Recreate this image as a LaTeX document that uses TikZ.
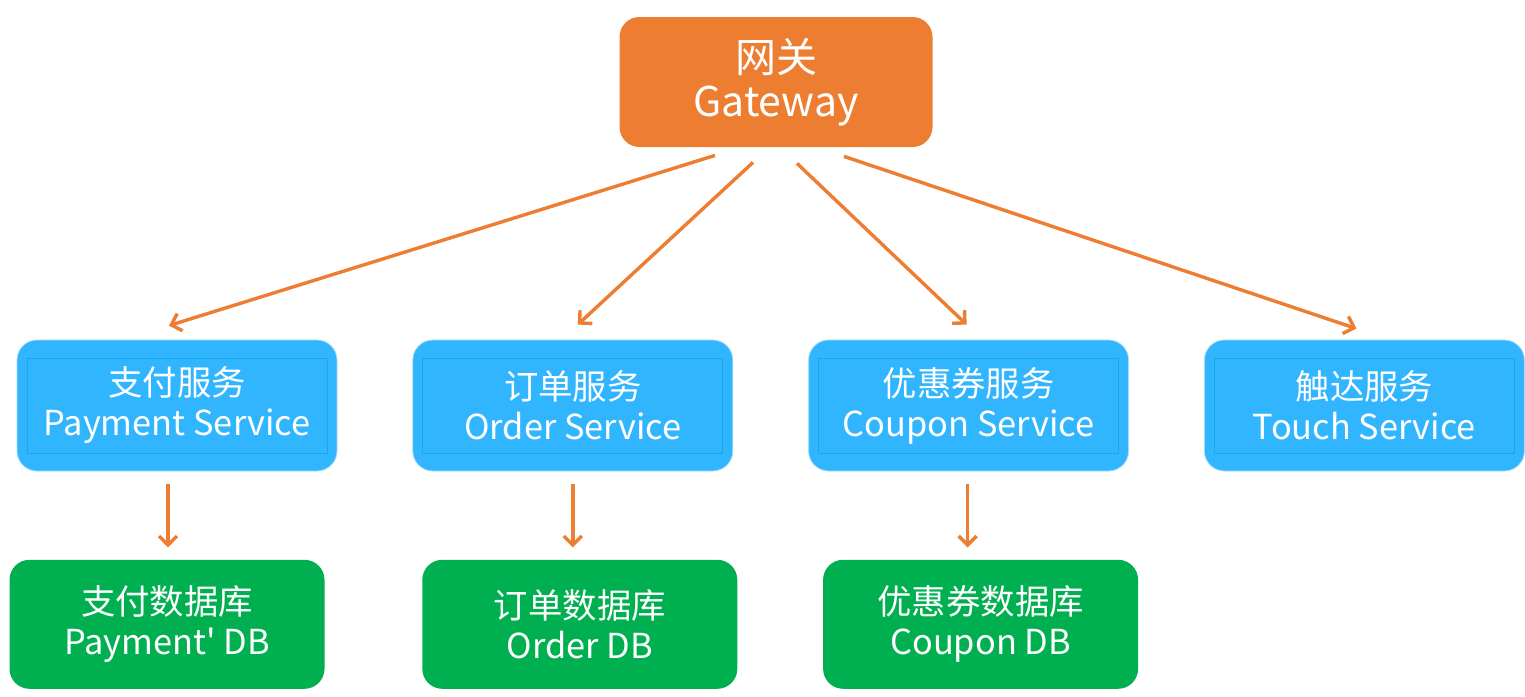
\documentclass[tikz,border=0pt]{standalone}
\usepackage{fontspec}
\newfontfamily\cjk{Noto Sans CJK SC}
\usepackage{xcolor}
\usepackage{tikz}
\usetikzlibrary{arrows.meta, positioning, calc}

\definecolor{gworange}{HTML}{ED7D31}
\definecolor{svcblue}{HTML}{30B5FE}
\definecolor{svcline}{HTML}{16AAEA}
\definecolor{svcedge}{HTML}{A8DCFB}
\definecolor{dbgreen}{HTML}{00B050}

\begin{document}
\begin{tikzpicture}[
  x=0.5pt, y=-0.5pt,
  gateway/.style={rectangle, rounded corners=10pt, fill=gworange, text=white, align=center,
    minimum width=156.5pt, minimum height=65pt, inner sep=0pt, font=\cjk\fontsize{20.5}{22}\selectfont},
  service/.style={rectangle, rounded corners=10pt, fill=svcblue, draw=svcedge, line width=0.4pt, text=white, align=center,
    minimum width=160pt, minimum height=65.5pt, inner sep=0pt, font=\cjk\fontsize{17.2}{20}\selectfont,
    path picture={\draw[svcline, line width=0.5pt, sharp corners]
      ([xshift=5pt,yshift=9pt]path picture bounding box.south west) rectangle
      ([xshift=-5pt,yshift=-9pt]path picture bounding box.north east);}},
  database/.style={rectangle, rounded corners=10pt, fill=dbgreen, text=white, align=center,
    minimum width=157.5pt, minimum height=64.5pt, inner sep=0pt, font=\cjk\fontsize{17.2}{20}\selectfont},
  link/.style={-{Straight Barb[length=4.5pt,width=9pt,line width=1.7pt]}, line width=1.7pt, draw=gworange}
]
\useasboundingbox (0,0) rectangle (1525,696);

% gateway
\node[gateway] (gw) at (776,82) {网关\\Gateway};

% services
\node[service] (pay) at (177,405.5) {支付服务\\Payment Service};
\node[service, right=37.5pt of pay] (ord) {订单服务\\Order Service};
\node[service, right=37.5pt of ord] (cou) {优惠券服务\\Coupon Service};
\node[service, right=37.5pt of cou] (tou) {触达服务\\Touch Service};

% databases
\node[database, below=44pt of pay, xshift=-5pt] (paydb) {支付数据库\\Payment' DB};
\node[database, below=44pt of ord, xshift=3.5pt] (orddb) {订单数据库\\Order DB};
\node[database, below=44pt of cou, xshift=6pt] (coudb) {优惠券数据库\\Coupon DB};

% gateway -> services
\draw[link] ([shift={(-61,8)}]gw.south) -- ([shift={(-8,-14)}]pay.north);
\draw[link] ([shift={(-23,15)}]gw.south) -- ([shift={(5,-15)}]ord.north);
\draw[link] ([shift={(21,16)}]gw.south) -- ([shift={(-2,-15)}]cou.north);
\draw[link] ([shift={(68,9)}]gw.south) -- ([shift={(-8,-11)}]tou.north);

% services -> databases
\draw[link] ([shift={(-9,13)}]pay.south) -- ([shift={(1,-12)}]paydb.north);
\draw[link] ([shift={(0,13)}]ord.south) -- ([shift={(-7,-12)}]orddb.north);
\draw[link] ([shift={(-1,13)}]cou.south) -- ([shift={(-13,-12)}]coudb.north);

\end{tikzpicture}
\end{document}
